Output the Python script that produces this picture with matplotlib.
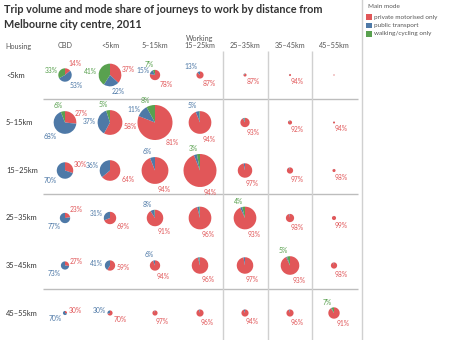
import matplotlib
matplotlib.use("Agg")
import matplotlib.pyplot as plt
import numpy as np

plt.rcParams['font.family'] = ['Lato', 'DejaVu Sans']

# ---------------- data ----------------
housing = ["<5km", "5–15km", "15–25km", "25–35km", "35–45km", "45–55km"]
working = ["CBD", "<5km", "5–15km", "15–25km", "25–35km", "35–45km", "45–55km"]
modes = ["private motorised only", "public transport", "walking/cycling only"]

# mode shares (%), rows = housing distance, cols = working distance
private = [
    [14, 37, 78, 87, 87, 94, 95],
    [27, 58, 81, 94, 93, 92, 94],
    [30, 64, 94, 94, 97, 97, 98],
    [23, 69, 91, 96, 93, 98, 99],
    [27, 59, 94, 96, 97, 93, 98],
    [30, 70, 97, 96, 94, 96, 91],
]
public = [
    [53, 22, 15, 13, 10, 5, 4],
    [68, 37, 11, 5, 5, 6, 5],
    [70, 36, 6, 3, 3, 3, 2],
    [77, 31, 8, 3, 3, 2, 1],
    [73, 41, 6, 3, 3, 2, 2],
    [70, 30, 3, 4, 6, 4, 2],
]
walking = [
    [33, 41, 7, 0, 3, 1, 1],
    [6, 5, 8, 1, 2, 2, 1],
    [0, 0, 0, 3, 0, 0, 0],
    [0, 0, 1, 1, 4, 0, 0],
    [0, 0, 0, 1, 0, 5, 0],
    [0, 0, 0, 0, 0, 0, 7],
]
# trip volume (journeys), estimated from pie size
volume = [
    [8800, 25200, 5200, 2500, 470, 210, 75],
    [25200, 30000, 60000, 25200, 4200, 830, 210],
    [13300, 20800, 35200, 53300, 10200, 1900, 470],
    [5200, 7500, 13300, 25200, 25200, 3300, 830],
    [3300, 5200, 5200, 13300, 13300, 16900, 1900],
    [830, 1300, 1300, 2500, 2500, 2500, 6300],
]
# which shares are labelled (r = private, b = public, g = walking)
shown = [
    ["rbg", "rbg", "rbg", "rb", "r", "r", ""],
    ["rbg", "rbg", "rbg", "rb", "r", "r", "r"],
    ["rb", "rb", "rb", "rg", "r", "r", "r"],
    ["rb", "rb", "rb", "r", "rg", "r", "r"],
    ["rb", "rb", "rb", "r", "r", "rg", "r"],
    ["rb", "rb", "r", "r", "r", "r", "rg"],
]

# ---------------- style / layout ----------------
C_RED, C_BLUE, C_GREEN = "#e15759", "#4e79a7", "#59a14f"
mode_colors = [C_RED, C_BLUE, C_GREEN]
keys = ["r", "b", "g"]

fig = plt.figure(figsize=(4.5, 3.4), dpi=100)
ax = fig.add_axes([0, 0, 1, 1])
ax.set_autoscale_on(False)
ax.set_xlim(0, 450)
ax.set_ylim(340, 0)
ax.axis("off")

col_x = [65, 110, 155, 200, 245, 290, 334]
row_y = [75, 122.5, 170.5, 218, 265.5, 313]
max_r, max_vol = 17.5, max(max(v) for v in volume)

# grid lines
for y in [99, 194, 289]:
    ax.plot([43, 358], [y, y], color="#bdbdbd", lw=1.0, solid_capstyle="butt")
for x in [223, 267.5, 312]:
    ax.plot([x, x], [51, 340], color="#d0d0d0", lw=1.0, solid_capstyle="butt")
ax.plot([362, 362], [0, 340], color="#d0d0d0", lw=1.0)

# title
ax.text(4, 4, "Trip volume and mode share of journeys to work by distance from\nMelbourne city centre, 2011",
        fontsize=7.8, fontweight="bold", color="#333333", va="top", ha="left", linespacing=1.4)

# headers
ax.text(200, 38, "Working", fontsize=5.2, color="#555555", ha="center", va="center")
ax.text(5, 46, "Housing", fontsize=5.2, color="#555555", ha="left", va="center")
for x, lab in zip(col_x, working):
    ax.text(x, 46, lab, fontsize=5.2, color="#555555", ha="center", va="center")
for y, lab in zip(row_y, housing):
    ax.text(6, y, lab, fontsize=5.4, color="#333333", ha="left", va="center")

# legend
ax.text(368, 6, "Main mode", fontsize=4.6, color="#555555", ha="left", va="center")
for i, (m, c) in enumerate(zip(modes, mode_colors)):
    yy = 17 + i * 8.5
    ax.add_patch(plt.Rectangle((366, yy - 2.8), 5.6, 5.6, color=c, lw=0))
    ax.text(374, yy, m, fontsize=4.6, color="#555555", ha="left", va="center")

# pies
for i in range(len(housing)):
    for j in range(len(working)):
        vals = [private[i][j], public[i][j], walking[i][j]]
        r = max_r * np.sqrt(volume[i][j] / max_vol)
        cx, cy = col_x[j], row_y[i]
        ax.pie(vals, radius=r, center=(cx, cy), colors=mode_colors,
               startangle=-90, counterclock=True, frame=True,
               wedgeprops=dict(linewidth=0))
        total = float(sum(vals))
        cum = 0.0
        for k, v in enumerate(vals):
            frac = v / total
            mid = (cum + frac / 2) * 2 * np.pi
            cum += frac
            if keys[k] not in shown[i][j] or v == 0:
                continue
            s, c = np.sin(mid), np.cos(mid)
            d = r + 2.0
            ax_x = cx + s * d
            ax_y = cy - c * d
            ha = "left" if s >= 0 else "right"
            if c > 0.7:
                va = "bottom"
            elif c < -0.3:
                va = "top"
            else:
                va = "center"
            ax.text(ax_x, ax_y, f"{v}%", fontsize=4.85, color=mode_colors[k],
                    ha=ha, va=va)

ax.set_xlim(0, 450)
ax.set_ylim(340, 0)
ax.set_aspect("auto")
fig.savefig("out.png", dpi=100, facecolor="white")
